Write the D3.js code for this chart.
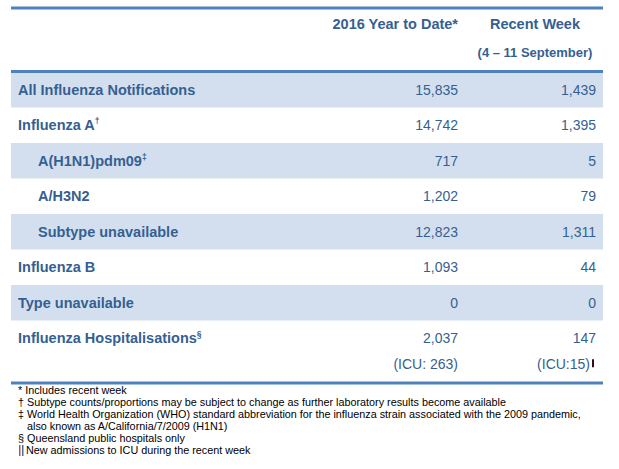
<!DOCTYPE html>
<html>
<head>
<meta charset="utf-8">
<script src="https://cdn.jsdelivr.net/npm/d3@7"></script>
<style>
  body { margin: 0; background: #fff; }
  svg { display: block; font-family: "Liberation Sans", Arial, sans-serif; }
</style>
</head>
<body>
<div id="chart"></div>
<script>
// table data
var rowLabels = ["All Influenza Notifications", "Influenza A", "A(H1N1)pdm09", "A/H3N2",
    "Subtype unavailable", "Influenza B", "Type unavailable", "Influenza Hospitalisations"];
var rowMarks = ["", "\u2020", "\u2021", "", "", "", "", "\u00a7"];
var rowIndent = [0, 0, 1, 1, 1, 0, 0, 0];
var yearToDate = [15835, 14742, 717, 1202, 12823, 1093, 0, 2037];
var recentWeek = [1439, 1395, 5, 79, 1311, 44, 0, 147];
var icuYearToDate = 263;
var icuRecentWeek = 15;
var colHeaders = ["2016 Year to Date*", "Recent Week"];
var weekRange = "(4 \u2013 11 September)";
var footnotes = [
    "* Includes recent week",
    "\u2020 Subtype counts/proportions may be subject to change as further laboratory results become available",
    "\u2021 World Health Organization (WHO) standard abbreviation for the influenza strain associated with the 2009 pandemic,",
    "   also known as A/California/7/2009 (H1N1)",
    "\u00a7 Queensland public hospitals only",
    "New admissions to ICU during the recent week"
];

var width = 619, height = 469;
var blue = "#4F81BD", textBlue = "#365F91", band = "#D3DFEE";
var fmt = d3.format(",");

var svg = d3.select("#chart").append("svg")
    .attr("width", width).attr("height", height);

// rows
var y = d3.scaleBand()
    .domain(d3.range(rowLabels.length))
    .range([72, 72 + 35.5 * rowLabels.length]);

var rows = svg.selectAll("g.row")
    .data(rowLabels)
    .enter().append("g")
    .attr("class", "row")
    .attr("transform", (d, i) => `translate(0,${y(i)})`);

rows.append("rect")
    .attr("x", 11).attr("width", 592)
    .attr("height", y.bandwidth())
    .attr("fill", (d, i) => i % 2 == 0 ? band : "none");

var lbl = rows.append("text")
    .attr("x", (d, i) => rowIndent[i] ? 38 : 18)
    .attr("y", y.bandwidth() / 2 + 5)
    .attr("fill", textBlue)
    .attr("font-weight", "bold")
    .attr("font-size", 14.5)
    .text(d => d);
lbl.append("tspan")
    .attr("dy", -6)
    .attr("font-size", 8.5)
    .text((d, i) => rowMarks[i]);

rows.append("text")
    .attr("x", 458)
    .attr("y", y.bandwidth() / 2 + 5)
    .attr("text-anchor", "end")
    .attr("fill", textBlue)
    .attr("font-size", 14)
    .text((d, i) => fmt(yearToDate[i]));

rows.append("text")
    .attr("x", 596)
    .attr("y", y.bandwidth() / 2 + 5)
    .attr("text-anchor", "end")
    .attr("fill", textBlue)
    .attr("font-size", 14)
    .text((d, i) => fmt(recentWeek[i]));

// ICU line under hospitalisations
var icuY = y(rowLabels.length - 1) + y.bandwidth() / 2 + 31;
svg.append("text")
    .attr("x", 458).attr("y", icuY)
    .attr("text-anchor", "end").attr("fill", textBlue).attr("font-size", 14)
    .text("(ICU: " + icuYearToDate + ")");
svg.append("text")
    .attr("x", 590).attr("y", icuY)
    .attr("text-anchor", "end").attr("fill", textBlue).attr("font-size", 14)
    .text("(ICU:" + icuRecentWeek + ")");
svg.append("rect")
    .attr("x", 592).attr("y", icuY - 10).attr("width", 2).attr("height", 8)
    .attr("fill", "#3a0a14");

// headers
svg.append("text")
    .attr("x", 458).attr("y", 29)
    .attr("text-anchor", "end").attr("fill", textBlue)
    .attr("font-weight", "bold").attr("font-size", 14.5)
    .text(colHeaders[0]);
svg.append("text")
    .attr("x", 535).attr("y", 29)
    .attr("text-anchor", "middle").attr("fill", textBlue)
    .attr("font-weight", "bold").attr("font-size", 14.5)
    .text(colHeaders[1]);
svg.append("text")
    .attr("x", 535).attr("y", 57)
    .attr("text-anchor", "middle").attr("fill", textBlue)
    .attr("font-weight", "bold").attr("font-size", 13)
    .text(weekRange);

// rule lines
[8, 71.5, 383].forEach(function (ly) {
    svg.append("line")
        .attr("x1", 11).attr("x2", 603)
        .attr("y1", ly).attr("y2", ly)
        .attr("stroke", blue).attr("stroke-width", 3);
});

// footnotes
svg.selectAll("text.note")
    .data(footnotes)
    .enter().append("text")
    .attr("class", "note")
    .attr("x", (d, i) => i == 5 ? 26 : 18)
    .attr("y", (d, i) => 394 + i * 12)
    .attr("font-size", 10.8)
    .attr("fill", "#000")
    .attr("xml:space", "preserve")
    .style("white-space", "pre")
    .text(d => d);

// double bar marker for last note
svg.append("rect").attr("x", 19).attr("y", 445).attr("width", 1.5).attr("height", 11).attr("fill", "#C0504D");
svg.append("rect").attr("x", 22).attr("y", 445).attr("width", 1.5).attr("height", 11).attr("fill", "#4F6EA0");
</script>
</body>
</html>
